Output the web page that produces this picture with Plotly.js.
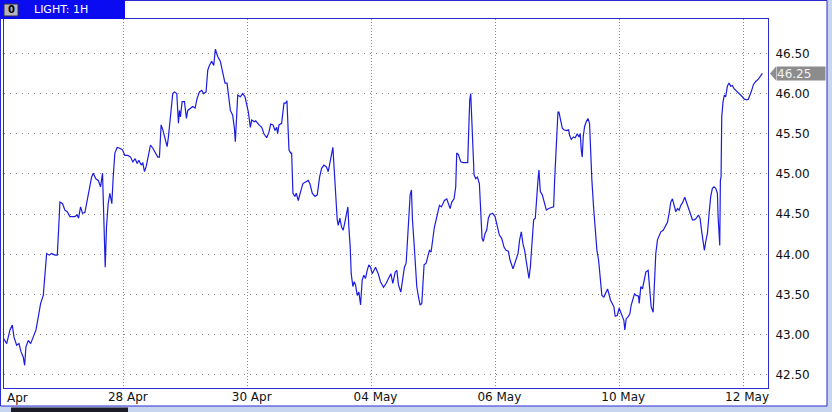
<!DOCTYPE html>
<html>
<head>
<meta charset="utf-8">
<script src="https://cdn.plot.ly/plotly-3.0.1.min.js"></script>
<style>
  html, body { margin: 0; padding: 0; background: #ffffff; }
  #chart { width: 832px; height: 412px; }
</style>
</head>
<body>
<div id="chart"></div>
<script>
// ---- DATA (time in trading days from the 26 Apr tick, hourly closes) ----
const dayA = [0.054,0.108,0.161,0.199,0.226,0.269,0.306,0.339,0.376,0.398,
  0.419,0.457,0.495,0.538,0.581,0.618,0.656,0.699,0.726,0.753,
  0.796,0.833,0.887,0.925,0.946,0.968,1.011,1.048,1.086,1.129,
  1.172,1.210,1.247,1.269,1.301,1.333,1.371,1.409,1.441,1.479,
  1.505,1.548,1.586,1.624,1.656,1.677,1.699,1.720,1.747,1.774,
  1.806,1.828,1.855,1.892,1.935,1.978,2.016];
const priceA = [42.96,42.89,43.06,43.12,42.97,42.87,42.89,42.79,42.72,42.62,
  42.85,42.93,42.89,42.97,43.06,43.22,43.39,43.49,43.76,44.01,
  43.99,44.01,43.99,43.99,44.30,44.65,44.63,44.55,44.53,44.47,
  44.47,44.47,44.49,44.45,44.59,44.51,44.52,44.67,44.82,44.96,
  45.01,44.94,44.92,44.84,45.01,44.43,43.84,44.34,44.63,44.76,
  44.63,44.96,45.26,45.33,45.32,45.30,45.23];

const dayB = [2.065,2.108,2.145,2.183,2.215,2.242,2.280,2.306,2.333,2.360,
  2.387,2.430,2.468,2.505,2.548,2.575,2.602,2.629,2.667,2.699,
  2.720,2.753,2.790,2.817,2.855,2.882,2.898,2.914,2.941,2.979,
  3.011,3.032,3.075,3.113,3.151,3.183,3.220,3.258,3.290,3.328,
  3.355,3.382,3.419,3.452,3.478,3.516,3.559,3.597,3.634,3.667,
  3.688,3.720,3.758,3.785,3.801,3.823,3.839,3.882,3.919,3.957,
  3.989,4.011,4.043,4.065,4.108];
const priceB = [45.23,45.21,45.15,45.19,45.13,45.17,45.11,45.14,45.03,45.09,
  45.19,45.36,45.32,45.26,45.21,45.21,45.61,45.55,45.42,45.34,
  45.46,45.69,46.00,46.02,46.00,45.63,45.79,45.71,45.90,45.90,
  45.69,45.79,45.82,45.84,45.82,45.94,46.02,46.04,46.00,46.02,
  46.29,46.35,46.40,46.35,46.55,46.46,46.40,46.27,46.13,46.13,
  45.96,45.79,45.73,45.57,45.40,45.71,45.98,45.96,46.00,45.96,
  45.86,45.77,45.58,45.67,45.65];

const dayC = [4.129,4.183,4.226,4.263,4.306,4.344,4.371,4.409,4.441,4.468,
  4.484,4.505,4.548,4.586,4.613,4.634,4.651,4.667,4.694,4.710,
  4.731,4.763,4.785,4.817,4.855,4.892,4.935,4.978,5.005,5.043,
  5.086,5.124,5.161,5.194,5.231,5.269,5.301,5.339,5.355,5.376,
  5.398,5.419,5.446,5.462,5.489,5.516,5.543,5.570,5.597,5.618,
  5.634,5.656,5.672,5.699,5.720,5.742,5.769,5.796,5.823,5.849,
  5.876,5.903,5.930,5.957,5.984,6.011,6.038,6.065,6.108,6.145];
const priceC = [45.66,45.61,45.58,45.50,45.45,45.52,45.62,45.61,45.54,45.58,
  45.50,45.61,45.63,45.88,45.88,45.91,45.61,45.30,45.26,45.26,
  44.76,44.72,44.76,44.67,44.78,44.88,44.90,44.92,44.88,44.76,
  44.72,44.74,44.96,45.07,45.11,45.09,45.03,45.17,45.26,45.33,
  45.05,44.72,44.43,44.36,44.45,44.34,44.30,44.40,44.51,44.59,
  44.34,44.09,43.76,43.60,43.66,43.62,43.49,43.53,43.37,43.68,
  43.74,43.70,43.80,43.87,43.84,43.76,43.80,43.84,43.76,43.66];

const dayD = [6.194,6.237,6.274,6.312,6.344,6.382,6.409,6.435,6.473,6.505,
  6.532,6.559,6.581,6.602,6.624,6.645,6.661,6.688,6.710,6.731,
  6.758,6.785,6.812,6.828,6.849,6.882,6.909,6.935,6.962,6.989,
  7.016,7.043,7.070,7.097,7.129,7.151,7.177,7.215,7.242,7.269,
  7.296,7.333,7.360,7.376,7.403,7.441,7.484,7.527,7.554,7.570,
  7.586,7.602,7.618,7.634,7.656,7.683,7.710,7.742,7.763,7.785,
  7.806,7.833,7.860,7.887,7.914,7.957,7.995,8.032,8.065,8.102,
  8.140,8.172,8.210,8.237];
const priceD = [43.59,43.64,43.70,43.76,43.64,43.78,43.80,43.62,43.53,43.72,
  43.84,43.89,44.18,44.51,44.74,44.80,44.43,44.13,43.84,43.60,
  43.47,43.37,43.39,43.68,43.87,43.89,43.97,44.05,44.03,44.22,
  44.34,44.43,44.53,44.61,44.59,44.63,44.67,44.69,44.63,44.57,
  44.65,44.69,44.84,45.26,45.24,45.15,45.14,45.14,45.14,45.55,
  45.92,46.00,45.67,45.38,44.99,44.94,44.96,44.88,44.51,44.20,
  44.16,44.26,44.30,44.45,44.50,44.51,44.47,44.36,44.24,44.20,
  44.09,44.05,44.04,43.93];

const dayE = [8.258,8.285,8.323,8.366,8.392,8.419,8.446,8.473,8.500,8.527,
  8.543,8.565,8.591,8.618,8.645,8.667,8.688,8.704,8.726,8.758,
  8.796,8.823,8.860,8.903,8.941,8.957,8.984,9.011,9.027,9.054,
  9.081,9.108,9.145,9.183,9.199,9.226,9.263,9.290,9.323,9.349,
  9.371,9.387,9.403,9.419,9.441,9.468,9.495,9.521,9.538,9.559,
  9.586,9.613,9.640,9.667,9.694,9.720,9.753,9.780,9.812,9.833,
  9.860,9.887,9.914,9.935,9.968,10.000,10.032,10.059,10.075,10.091,
  10.113,10.140,10.172,10.194,10.220,10.247,10.274,10.312];
const priceE = [43.87,43.82,43.91,44.01,44.18,44.28,44.13,44.05,43.91,43.74,
  43.70,43.84,44.18,44.43,44.45,44.76,44.92,45.05,44.78,44.74,
  44.63,44.55,44.57,44.58,44.59,44.92,45.34,45.77,45.77,45.67,
  45.57,45.55,45.54,45.55,45.48,45.43,45.46,45.45,45.50,45.46,
  45.50,45.30,45.21,45.46,45.59,45.65,45.69,45.63,45.26,44.92,
  44.59,44.30,44.05,43.93,43.68,43.49,43.47,43.51,43.57,43.51,
  43.43,43.39,43.35,43.23,43.24,43.33,43.26,43.22,43.18,43.06,
  43.20,43.22,43.26,43.37,43.43,43.51,43.49,43.48];

const dayF = [10.323,10.349,10.376,10.403,10.430,10.468,10.495,10.516,10.548,10.570,
  10.591,10.618,10.645,10.672,10.710,10.742,10.780,10.806,10.833,10.860,
  10.887,10.914,10.941,10.968,10.995,11.022,11.059,11.086,11.118,11.156,
  11.183,11.215,11.247,11.280,11.306,11.333,11.355,11.376,11.398,11.425,
  11.452,11.478,11.505,11.532,11.559,11.586,11.597,11.613,11.624,11.634,
  11.645,11.656,11.677,11.699,11.720,11.747,11.774,11.801,11.828,11.855,
  11.882,11.909,11.935,11.962,11.989,12.022,12.054,12.086,12.113,12.140,
  12.167,12.204,12.247,12.274,12.312];
const priceF = [43.39,43.60,43.57,43.70,43.78,43.80,43.51,43.35,43.28,43.72,
  44.01,44.18,44.24,44.28,44.30,44.34,44.40,44.51,44.65,44.69,
  44.61,44.53,44.57,44.55,44.61,44.64,44.71,44.65,44.57,44.51,
  44.43,44.43,44.45,44.49,44.45,44.28,44.18,44.05,44.16,44.26,
  44.51,44.72,44.82,44.84,44.82,44.76,44.47,44.13,44.11,44.92,
  44.96,45.71,45.90,45.98,45.96,46.09,46.13,46.09,46.10,46.06,
  46.04,46.02,46.01,45.98,45.96,45.93,45.92,45.93,45.98,46.04,
  46.11,46.15,46.18,46.21,46.25];

const dateTickDays = [2, 4, 6, 8, 10, 12];
const dateTickLabels = ['28 Apr', '30 Apr', '04 May', '06 May', '10 May', '12 May'];
const firstDateLabelVisible = 'Apr';   // the 26 Apr label, of which only "Apr" shows at the left edge
const priceTicks = [42.5, 43.0, 43.5, 44.0, 44.5, 45.0, 45.5, 46.0, 46.5];
const symbolTitle = 'LIGHT: 1H';
const lastPrice = 46.25;

// ---- assemble ----
const day = [].concat(dayA, dayB, dayC, dayD, dayE, dayF);
const price = [].concat(priceA, priceB, priceC, priceD, priceE, priceF);

// plot-area pixel frame (for decorations only)
const L = 4, R = 768, T = 19, B = 388;
const px = x => (x - L) / (R - L);
const py = y => (B - y) / (B - T);
const dayPx = 61.92;

const FONT = 'DejaVu Sans, Verdana, sans-serif';
const frameBlue = '#2b2bd2';

const trace = {
  x: day, y: price, type: 'scatter', mode: 'lines',
  line: { color: '#1c1ce0', width: 1.2, shape: 'linear' },
  hoverinfo: 'skip'
};

const layout = {
  width: 832, height: 412,
  margin: { l: L, r: 832 - R, t: T, b: 412 - B, pad: 0 },
  paper_bgcolor: '#ffffff', plot_bgcolor: '#ffffff',
  showlegend: false,
  font: { family: FONT, size: 12, color: '#111111' },
  xaxis: {
    range: [L / dayPx, R / dayPx],
    tickmode: 'array', tickvals: dateTickDays, ticktext: dateTickLabels,
    ticks: '', ticklabelshift: 4, ticklabelstandoff: -2,
    showgrid: true, gridcolor: '#8a8a8a', gridwidth: 1, griddash: '1px,2px',
    zeroline: false, showline: true, mirror: true, linecolor: frameBlue, linewidth: 1,
    tickfont: { family: FONT, size: 12, color: '#111111' },
    fixedrange: true
  },
  yaxis: {
    side: 'right',
    range: [42.338, 46.927],
    tickmode: 'array', tickvals: priceTicks,
    tickformat: '.2f',
    ticks: 'outside', ticklen: 4, tickcolor: 'rgba(0,0,0,0)',
    showgrid: true, gridcolor: '#8a8a8a', gridwidth: 1, griddash: '1px,5px',
    zeroline: false, showline: true, mirror: true, linecolor: frameBlue, linewidth: 1,
    tickfont: { family: FONT, size: 12, color: '#111111' },
    fixedrange: true
  },
  shapes: [
    // right and bottom window strips
    { type: 'rect', xref: 'paper', yref: 'paper', x0: px(827), x1: px(833), y0: py(-1), y1: py(413),
      fillcolor: '#c7d6ee', line: { width: 0 }, layer: 'above' },
    { type: 'rect', xref: 'paper', yref: 'paper', x0: px(-1), x1: px(833), y0: py(406), y1: py(413),
      fillcolor: '#c7d6ee', line: { width: 0 }, layer: 'above' },
    { type: 'rect', xref: 'paper', yref: 'paper', x0: px(11), x1: px(128), y0: py(407.5), y1: py(413),
      fillcolor: '#1c1c28', line: { width: 0 }, layer: 'above' },
    // outer window border
    { type: 'rect', xref: 'paper', yref: 'paper', x0: px(0.5), x1: px(827), y0: py(0.5), y1: py(406),
      fillcolor: 'rgba(0,0,0,0)', line: { color: frameBlue, width: 1 }, layer: 'above' },
    // header tab
    { type: 'rect', xref: 'paper', yref: 'paper', x0: px(0), x1: px(125), y0: py(0), y1: py(T),
      fillcolor: '#0b0bf2', line: { width: 0 }, layer: 'above' },
    { type: 'rect', xref: 'paper', yref: 'paper', x0: px(4), x1: px(18), y0: py(4), y1: py(16),
      fillcolor: '#b4b4c4', line: { color: '#303040', width: 1 }, layer: 'above' },
    // last-price marker arrow
    { type: 'path', xref: 'paper', xsizemode: 'pixel', xanchor: px(776),
      yref: 'y', ysizemode: 'pixel', yanchor: lastPrice,
      path: 'M-6,0 L0,7 L0,-7 Z', fillcolor: '#8c8c8c', line: { width: 0 }, layer: 'above' }
  ],
  annotations: [
    { xref: 'paper', yref: 'paper', x: px(11), y: py(10), xanchor: 'center', yanchor: 'middle',
      text: '<b>0</b>', showarrow: false, font: { family: FONT, size: 10, color: '#000000' } },
    { xref: 'paper', yref: 'paper', x: px(32), y: py(9.5), xanchor: 'left', yanchor: 'middle',
      text: symbolTitle, showarrow: false, font: { family: FONT, size: 11, color: '#ffffff' } },
    { xref: 'paper', yref: 'paper', x: px(5), y: py(398), xanchor: 'left', yanchor: 'middle',
      text: firstDateLabelVisible, showarrow: false, font: { family: FONT, size: 12, color: '#111111' } },
    { xref: 'paper', yref: 'y', x: px(776), y: lastPrice, xanchor: 'left', yanchor: 'middle',
      text: lastPrice.toFixed(2), showarrow: false, align: 'left',
      width: 48, height: 13, bgcolor: '#8c8c8c', borderpad: 0,
      font: { family: FONT, size: 12, color: '#f2f2f2' } }
  ]
};

Plotly.newPlot('chart', [trace], layout, { displayModeBar: false, staticPlot: true });
</script>
</body>
</html>
